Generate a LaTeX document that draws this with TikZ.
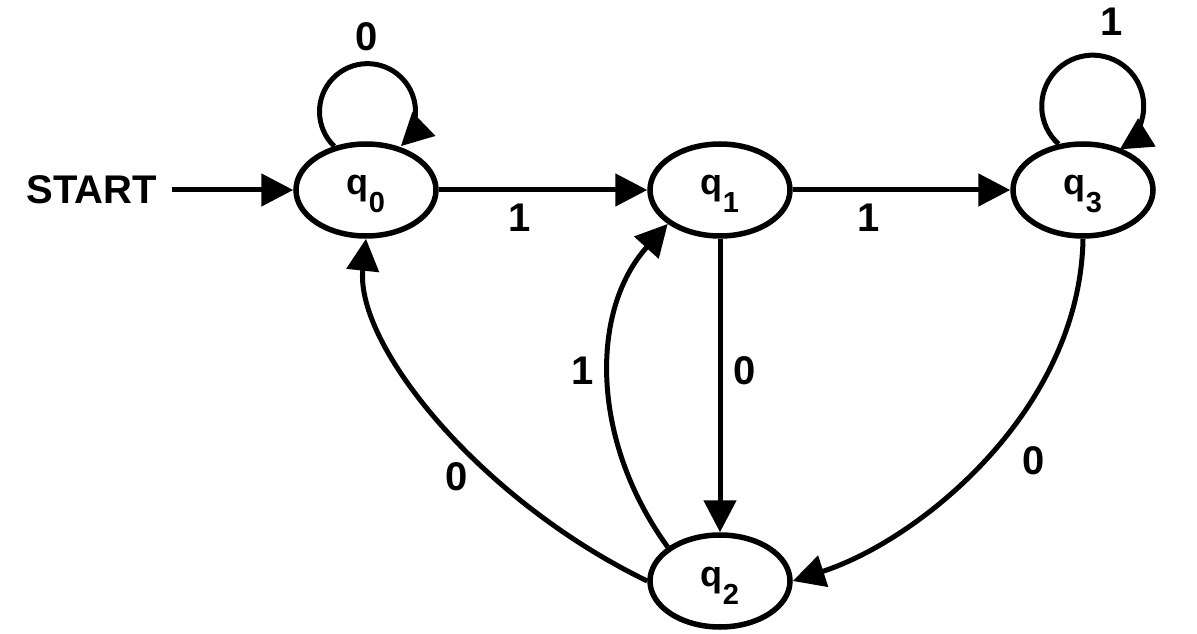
\documentclass[tikz,border=0pt]{standalone}
\usepackage{fontspec}
\setmainfont{Liberation Sans}
\usetikzlibrary{arrows.meta,shapes.geometric,calc}
\newcommand\qsub[1]{{\fontsize{36}{36}\selectfont q}\raisebox{-18pt}{\fontsize{29}{29}\selectfont #1}}
\tikzset{
  st/.style={draw, ellipse, line width=5.5pt, minimum width=140pt, minimum height=92pt,
    inner sep=0pt, text height=23pt, text depth=13pt, font=\bfseries},
  arr/.style={line width=5pt, -{Triangle[length=32pt,width=32pt]}},
  lbl/.style={font=\bfseries\fontsize{40}{40}\selectfont, inner sep=0pt}
}
\begin{document}
\begin{tikzpicture}[x=1pt,y=1pt]
\useasboundingbox (0,0) rectangle (1197,633);
\node[st] (q0) at (366,443) {\qsub{0}};
\node[st] (q1) at (720,443) {\qsub{1}};
\node[st] (q3) at (1083,443) {\qsub{3}};
\node[st] (q2) at (720,52) {\qsub{2}};
\node[lbl] (start) at (91.5,443) {START};

\draw[arr, shorten <=15pt] (start) -- (q0);
\draw[arr] (q0) -- node[lbl, pos=0.39, yshift=-28pt] {1} (q1);
\draw[arr] (q1) -- node[lbl, pos=0.35, yshift=-28pt] {1} (q3);
\draw[arr] (q1) -- node[lbl, pos=0.45, xshift=25pt] {0} (q2);
\draw[arr] (q2.147) .. controls (590,193) and (590,323) .. node[lbl, pos=0.5, xshift=-27pt, yshift=7pt] {1} (q1.213);
\draw[arr] (q2.west) .. controls (480,133) and (355,288) .. node[lbl, pos=0.4, xshift=-16pt, yshift=-21pt] {0} (q0.south);
\draw[arr] (q3.south) .. controls (1080,223) and (920,93) .. node[lbl, pos=0.5, xshift=49pt, yshift=-2pt] {0} (q2.east);

\draw[arr] (q0.126) arc[start angle=226, end angle=-46, radius=48];
\draw[arr] (q3.118) arc[start angle=228, end angle=-58, radius=51];
\node[lbl] (l0) at ($(q0)+(1,153)$) {0};
\node[lbl] (l3) at ($(q3)+(29,168)$) {1};
\end{tikzpicture}
\end{document}
